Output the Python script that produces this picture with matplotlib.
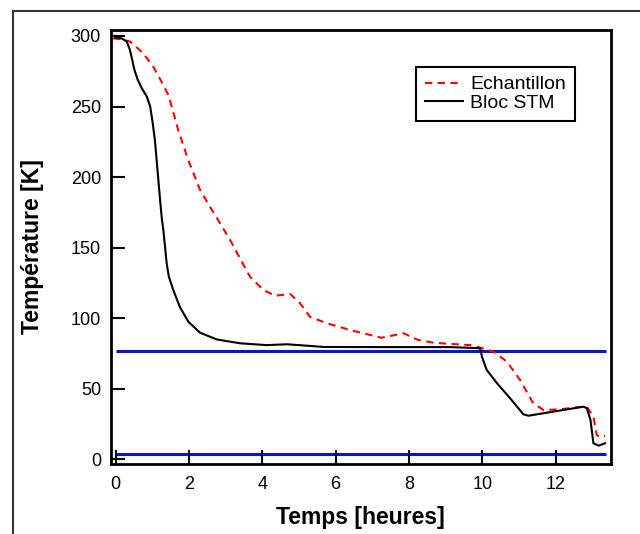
import matplotlib
matplotlib.use("Agg")
import matplotlib.pyplot as plt
from matplotlib.lines import Line2D

plt.rcParams['font.family'] = ['Liberation Sans', 'DejaVu Sans']

# Sample temperature (dashed red)
t_ech = [-0.07, 0.16, 0.39, 0.57, 0.75, 1.03, 1.25, 1.44, 1.71, 1.98, 2.3, 2.57,
         2.76, 3.12, 3.66, 4.03, 4.35, 4.76, 5.03, 5.3, 5.76, 6.39, 7.25, 7.85,
         8.25, 8.67, 9.05, 9.67, 9.94, 10.3, 10.67, 11.03, 11.39, 11.67, 12.12,
         12.58, 12.85, 13.03, 13.12, 13.21, 13.35]
T_ech = [298.3, 297.6, 296, 292, 287.7, 278, 267.6, 258, 233, 212, 191, 179,
         171, 155.5, 129.5, 120, 116, 117.2, 110.6, 101, 96.5, 91.7, 86.2, 89.4,
         84.6, 82.7, 82, 81, 79.2, 76.4, 69.3, 56.3, 39.8, 35, 35.5,
         37, 37.4, 30.3, 17.4, 15.7, 16.6]

# STM block temperature (solid black)
t_stm = [-0.02, 0.16, 0.3, 0.39, 0.45, 0.51, 0.6, 0.71, 0.85, 0.94, 1.0, 1.07,
         1.14, 1.21, 1.26, 1.3, 1.39, 1.45, 1.57, 1.75, 1.98, 2.3, 2.76, 3.39,
         4.12, 4.67, 5.21, 5.67, 7.3, 9.1, 9.94, 9.99, 10.12, 10.4, 10.76,
         11.12, 11.26, 11.94, 12.76, 12.85, 12.95, 13.03, 13.17, 13.35]
T_stm = [299, 298.3, 296, 290, 283, 276, 269, 263, 257, 250, 240, 226,
         205, 184, 170, 162.5, 139, 129.5, 120, 108, 97.6, 89.8, 85, 82.3,
         81, 81.6, 80.6, 79.7, 79.6, 79.6, 78.8, 72.8, 63.4, 54, 43.3,
         32, 31, 33.9, 37.4, 36.3, 28, 11.5, 9.8, 11.5]

# Reference levels: liquid nitrogen and liquid helium
ref_levels = [77, 4.2]
ref_span = [0, 13.37]

x_ticks = [0, 2, 4, 6, 8, 10, 12]
y_ticks = [0, 50, 100, 150, 200, 250, 300]

fig = plt.figure(figsize=(6.4, 5.34), dpi=100)
ax = fig.add_axes([0.173, 0.1311, 0.7817, 0.8127])

for lvl in ref_levels:
    ax.plot(ref_span, [lvl, lvl], color='#0a14c8', lw=2.2, solid_capstyle='butt', zorder=1)

ax.plot(t_ech, T_ech, color='#ff0000', lw=1.5, dashes=(3.5, 2.6), zorder=2)
ax.plot(t_stm, T_stm, color='black', lw=1.5, zorder=3)

ax.set_xlim(-0.136, 13.51)
ax.set_ylim(-3.2, 304.2)
ax.set_xticks(x_ticks)
ax.set_yticks(y_ticks)
ax.tick_params(direction='in', length=10, width=1.5, labelsize=13)
ax.tick_params(axis='x', pad=9)
ax.tick_params(axis='y', pad=7)
for s in ax.spines.values():
    s.set_linewidth(2)

ax.set_xlabel('Temps [heures]', fontsize=16.5, fontweight='bold', labelpad=9)
ax.set_ylabel('Température [K]', fontsize=16.5, fontweight='bold', labelpad=19)

handles = [Line2D([], [], color='#ff0000', lw=1.5, dashes=(3.5, 2.6)),
           Line2D([], [], color='black', lw=1.5)]
leg = ax.legend(handles, ['Echantillon', 'Bloc STM'], loc='upper left',
                bbox_to_anchor=((416 - 110.7) / 500.3, (464 - 67) / 434),
                fontsize=14, fancybox=False, framealpha=1, edgecolor='black',
                handlelength=1.95, borderpad=0.45, labelspacing=0.05,
                handletextpad=0.4, borderaxespad=0)
leg.get_frame().set_linewidth(1.5)

# Outer frame around the figure
fig.add_artist(Line2D([13 / 640, 13 / 640], [0, 1 - 11 / 534], color='#333333', lw=1.5,
                      transform=fig.transFigure))
fig.add_artist(Line2D([13 / 640, 1], [1 - 11 / 534, 1 - 11 / 534], color='#333333', lw=1.5,
                      transform=fig.transFigure))

fig.savefig('out.png', dpi=100)
